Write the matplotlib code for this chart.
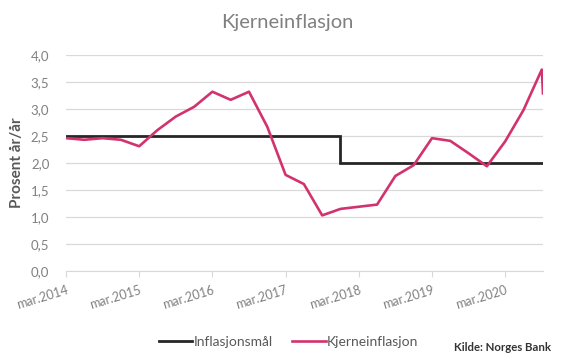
import matplotlib.pyplot as plt
import numpy as np

plt.rcParams['font.family'] = ['Lato', 'DejaVu Sans']

# months since mar.2014, quarterly readings (last one a bit later)
maaned = [0, 3, 6, 9, 12, 15, 18, 21, 24, 27, 30, 33, 36, 39, 42, 45, 48,
          51, 54, 57, 60, 63, 66, 69, 72, 75, 78, 78.2]
kjerne = [2.46, 2.43, 2.46, 2.43, 2.31, 2.61, 2.86, 3.04, 3.32, 3.17, 3.32,
          2.67, 1.78, 1.61, 1.03, 1.15, 1.19, 1.23, 1.76, 1.96, 2.46, 2.41,
          2.18, 1.94, 2.40, 2.98, 3.73, 3.29]

maal_x = [0, 45, 45, 78.2]
maal_y = [2.5, 2.5, 2.0, 2.0]

tick_pos = [0, 12, 24, 36, 48, 60, 72]
tick_lab = ["mar.2014", "mar.2015", "mar.2016", "mar.2017", "mar.2018",
            "mar.2019", "mar.2020"]
y_ticks = np.arange(0, 4.01, 0.5)

fig = plt.figure(figsize=(5.66, 3.6), dpi=100)
ax = fig.add_axes([66/566, 1-271/360, 477/566, 216/360])

ax.plot(maal_x, maal_y, color="#262626", lw=2.0, label="Inflasjonsmål",
        solid_joinstyle="miter")
ax.plot(maaned, kjerne, color="#D2336E", lw=1.9, label="Kjerneinflasjon")

ax.set_xlim(0, 78.2)
ax.set_ylim(0, 4)
ax.set_yticks(y_ticks)
ax.set_yticklabels([f"{v:.1f}".replace(".", ",") for v in y_ticks])
ax.set_xticks(tick_pos)
ax.set_xticklabels(tick_lab, rotation=17, ha="right", rotation_mode="anchor")

ax.grid(axis="y", color="#d9d9d9", lw=0.9)
ax.set_axisbelow(True)
for s in ["top", "right", "left"]:
    ax.spines[s].set_visible(False)
ax.spines["bottom"].set_color("#d9d9d9")
ax.tick_params(axis="y", length=0, pad=12, labelsize=9.5, labelcolor="#808080")
ax.tick_params(axis="x", length=4, color="#d9d9d9", pad=5, labelsize=9,
               labelcolor="#808080")

ax.set_ylabel("Prosent år/år", fontsize=11, color="#595959",
              fontweight="bold", labelpad=5)
fig.text(0.507, 0.937, "Kjerneinflasjon", ha="center", va="center",
         fontsize=14.5, color="#808080")

fig.legend(loc="center", bbox_to_anchor=(0.51, 0.05), ncol=2, frameon=False,
           fontsize=10, labelcolor="#595959", handlelength=2.4,
           handletextpad=0.1, columnspacing=1.4)
fig.text(0.973, 0.035, "Kilde: Norges Bank", ha="right", va="center",
         fontsize=8.2, color="#333333", fontweight="bold")

fig.savefig("out.png", dpi=100)
